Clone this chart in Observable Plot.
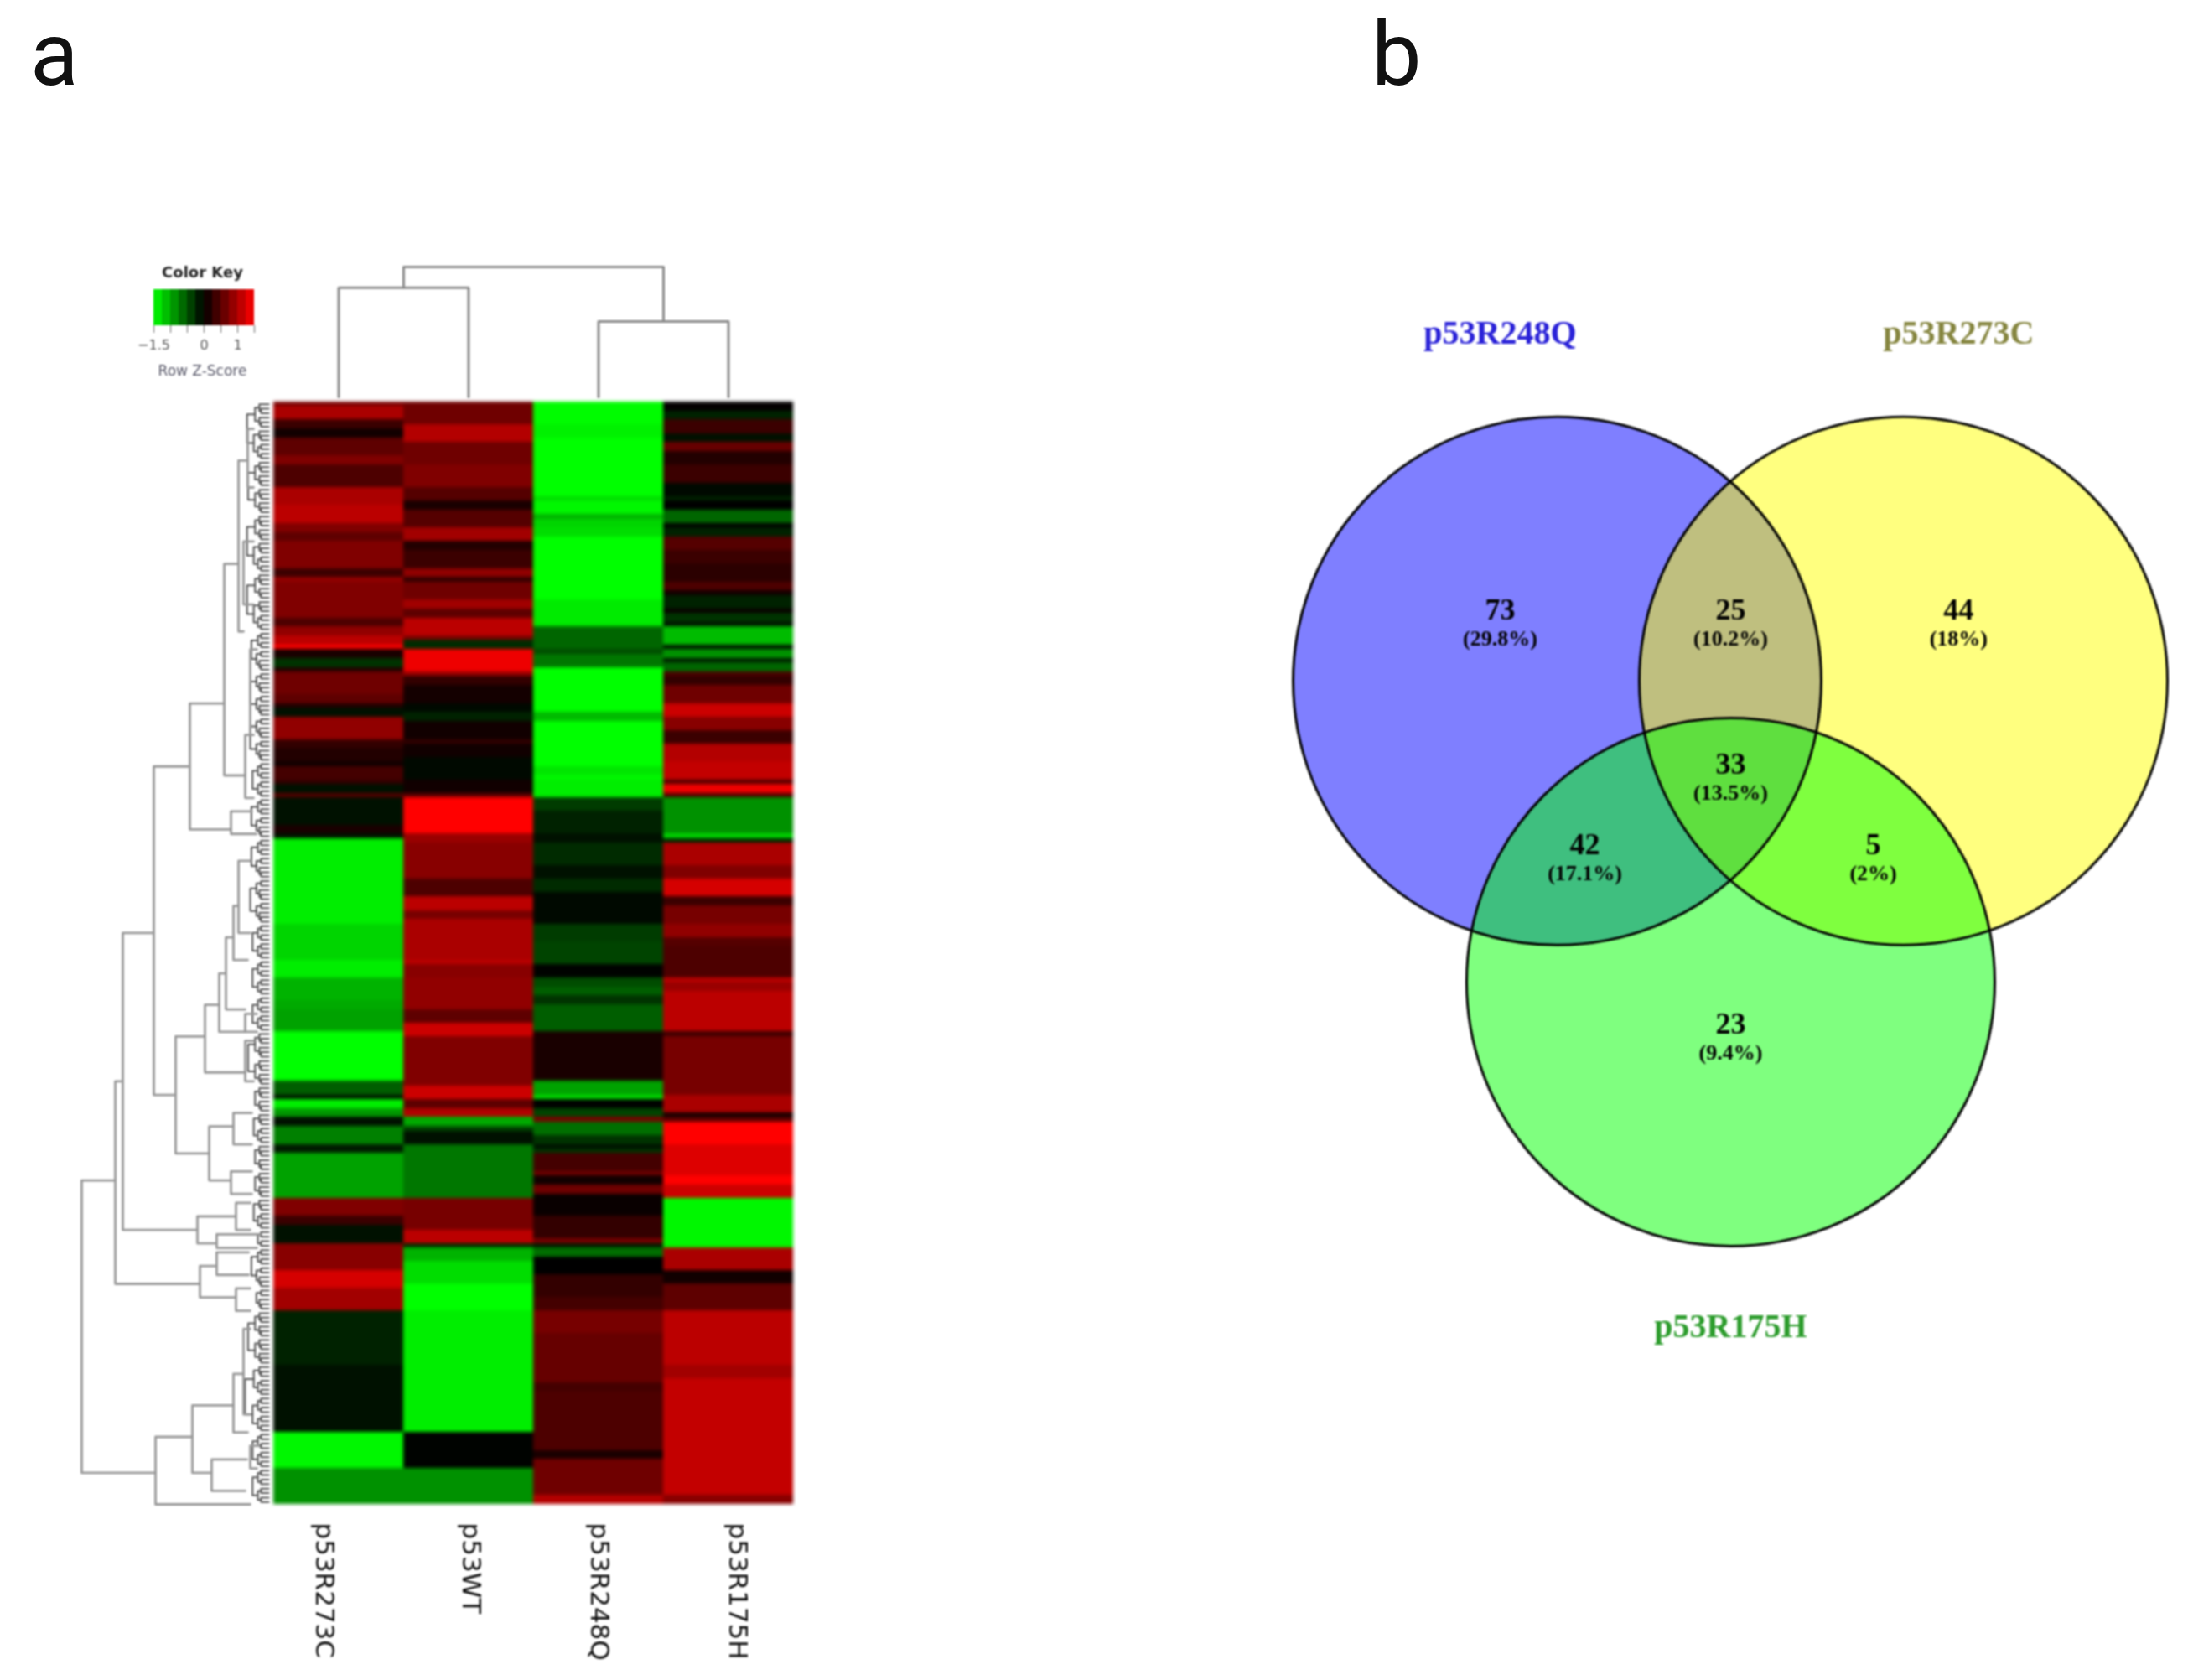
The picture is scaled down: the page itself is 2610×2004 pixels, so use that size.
<!DOCTYPE html>
<html>
<head>
<meta charset="utf-8">
<script src="https://cdn.jsdelivr.net/npm/d3@7"></script>
<script src="https://cdn.jsdelivr.net/npm/@observablehq/plot@0.6"></script>
<style>
html,body{margin:0;padding:0;background:#fff;overflow:hidden}
#page{position:relative;width:2610px;height:2004px;background:#fff}
#page>*{position:absolute}
.letter{font-family:"Roboto";font-size:106px;line-height:normal;color:#111}
</style>
</head>
<body>
<div id="page"></div>
<script>
// ---------- values ----------
const samples = ["p53R273C", "p53WT", "p53R248Q", "p53R175H"];
const rowCount = 245;

// each heatmap column: [row where the run ends, row z-score]
const p53R273C_runs = [[1,.7],[4,1],[6,.35],[8,.1],[12,.55],[14,.75],[19,.45],[23,1],[27,1.1],[29,.75],[31,.55],[37,.75],[39,.35],[40,.85],[48,.75],[50,.45],[52,.85],[54,1.1],[55,1.5],[57,.15],[59,-.3],[60,.2],[65,.65],[67,.55],[68,.2],[70,-.1],[75,.85],[77,.3],[80,.2],[81,.1],[84,.4],[85,.3],[87,-.1],[88,.5],[94,-.1],[96,.15],[97,-.1],[116,-1.4],[124,-1.25],[128,-1.4],[133,-1.05],[135,-1],[140,-.95],[151,-1.5],[154,-.55],[155,-.1],[157,-1.4],[159,-.9],[161,-.1],[165,-.75],[167,-.15],[177,-.95],[181,.75],[183,.35],[187,-.1],[193,.8],[197,1.25],[202,.95],[214,-.2],[229,-.1],[237,-1.45],[245,-.85]];
const p53WT_runs = [[5,.65],[9,1.05],[14,.65],[19,.75],[22,.5],[24,.15],[28,.5],[31,.95],[33,.2],[37,.35],[39,.85],[40,.3],[44,.65],[46,.95],[48,.55],[52,1.1],[53,.75],[55,-.25],[60,1.4],[61,.9],[63,.3],[67,.12],[69,-.05],[71,-.2],[75,.1],[76,.3],[79,.1],[84,-.05],[87,.1],[88,.55],[96,1.5],[98,.9],[106,.8],[110,.45],[113,1.1],[115,.7],[124,1],[125,1.1],[128,.8],[135,.85],[138,.55],[141,1.2],[152,.75],[155,1.2],[157,.55],[159,1.05],[161,-1],[162,-.4],[165,-.1],[177,-.7],[184,.7],[187,1.1],[188,-.25],[191,-1.05],[196,-1.3],[202,-1.5],[229,-1.4],[237,-.02],[245,-.85]];
const p53R248Q_runs = [[5,-1.48],[8,-1.42],[21,-1.5],[22,-1.3],[25,-1.45],[26,-1.05],[28,-1.25],[30,-1.3],[44,-1.5],[50,-1.38],[55,-.6],[56,-.45],[59,-.7],[69,-1.5],[71,-1.1],[81,-1.5],[83,-1.35],[84,-1.45],[88,-1.4],[91,-.35],[96,-.2],[98,-.1],[101,-.25],[103,-.25],[106,-.1],[109,-.25],[116,-.05],[120,-.35],[125,-.4],[128,-.02],[130,-.45],[132,-.55],[134,-.3],[140,-.55],[151,.15],[154,-.95],[155,-1.3],[157,-.02],[159,-.4],[160,.7],[163,-.65],[165,-.3],[166,-.1],[167,-.3],[171,.4],[172,.65],[174,.1],[176,.65],[181,.05],[186,.3],[187,.7],[188,-.15],[190,-.65],[194,0],[199,.3],[202,.4],[207,.7],[218,.6],[220,.4],[233,.45],[235,.15],[243,.65],[245,1.05]];
const p53R175H_runs = [[2,.02],[4,-.2],[7,.35],[9,-.1],[11,.6],[14,.2],[18,.35],[21,-.05],[22,-.2],[24,0],[27,-.6],[28,0],[30,-.2],[33,.5],[36,.35],[40,.25],[42,.45],[43,.1],[46,-.2],[47,.05],[49,-.3],[50,-.1],[54,-1.1],[55,-.1],[57,-.85],[58,-.15],[60,-.6],[61,.45],[63,.3],[67,.65],[70,1.2],[73,.8],[76,.35],[80,1.05],[84,1.15],[85,.45],[87,1.4],[88,.45],[96,-.85],[97,-1.25],[98,-.2],[103,1],[106,.75],[110,1.25],[112,.35],[116,.7],[119,.85],[121,.5],[128,.45],[129,1.1],[131,.9],[140,1.1],[141,.35],[154,.7],[158,1],[159,.1],[160,.5],[165,1.5],[172,1.3],[174,1.5],[177,1.2],[188,-1.45],[193,1],[196,.1],[202,.55],[214,1.1],[217,.95],[243,1.15],[245,.8]];
const columnRuns = [p53R273C_runs, p53WT_runs, p53R248Q_runs, p53R175H_runs];

const colorKeyBreaks = [-1.5,-1.25,-1,-.75,-.5,-.25,0,.25,.5,.75,1,1.25,1.5];
const colorKeyTicks = [-1.5,-1,-.5,0,.5,1,1.5];

// column tree: merge distance and its two branches
const columnTree = {dist:100, kids:[{dist:84, kids:[0,1]}, {dist:58, kids:[2,3]}]};

// row tree merges: [distance, upper row, lower row, upper branch distance, lower branch distance]
const rowMerges = [
 [223,173,238,183,135],[183,151,196,174,82],[82,192,199,62,39],[62,189,194,24,24],[39,197,202,22,22],
 [174,118,184,137,85],[85,181,187,39,62],[39,178,184,22,22],[62,185,188,10,14],
 [137,81,154,94,111],[111,141,167,76,71],[76,134,149,59,28],[59,127,140,51,28],[51,119,135,42,28],[42,112,124,36,25],[36,102,118,22,22],
 [28,142,151,18,18],[28,136,140,14,14],[71,161,173,42,45],[42,158,165,20,20],[45,171,176,20,20],
 [135,230,245,91,22],[91,223,238,42,68],[42,216,229,30,25],[30,206,225,22,22],[68,235,242,26,28],[22,232,237,12,14],
 [94,67,95,53,45],[53,36,83,36,28],[36,13,51,25,30],[25,6,19,18,18],[30,31,45,18,18],[28,74,88,22,18],[22,55,74,14,18],[45,91,96,20,15]
];
// row blocks that hold the fine branches next to the heatmap
const rowBlockEnds = [13,25,38,51,60,70,80,88,97,106,116,124,132,140,152,158,165,171,177,184,188,197,202,214,229,237,245];

const vennSets = ["p53R248Q","p53R273C","p53R175H"];
const vennColors = ["#0000ff","#ffff00","#00ff00"];
const vennCounts = [73,25,44,33,42,5,23];
const vennShares = ["(29.8%)","(10.2%)","(18%)","(13.5%)","(17.1%)","(2%)","(9.4%)"];

// ---------- layout ----------
const page = document.getElementById("page");
const place = (el, left, top, blur) => {
  el.style.left = left + "px"; el.style.top = top + "px";
  if (blur) el.style.filter = `blur(${blur}px)`;
  page.appendChild(el); return el;
};
const letter = (t, left, top) => { const d = document.createElement("div"); d.className = "letter"; d.textContent = t; place(d, left, top); };
letter("a", 36, 3); letter("b", 1636, 3);

const colorScale = {type:"linear", domain:[-1.5,0,1.5], range:["#00ff00","#000000","#ff0000"], clamp:true};
const sans = "DejaVu Sans";
const heatX = [326,946], heatY = [479,1794];

// ---------- heatmap ----------
const heatCells = [];
columnRuns.forEach((runs, c) => {
  let from = 0;
  for (const [end, z] of runs) { for (let r = from; r < end; r++) heatCells.push({sample:samples[c], row:r, z}); from = end; }
});
place(Plot.plot({
  width: heatX[1]-heatX[0], height: heatY[1]-heatY[0],
  marginTop:0, marginRight:0, marginBottom:0, marginLeft:0,
  style:{background:"transparent", overflow:"visible"},
  x:{type:"band", domain:samples, padding:0, round:false, axis:null},
  y:{type:"band", domain:d3.range(rowCount), padding:0, round:false, axis:null},
  color:colorScale,
  marks:[Plot.cell(heatCells,{x:"sample", y:"row", fill:"z", shapeRendering:"crispEdges"})]
}), heatX[0], heatY[0], 2.2);

// sample labels below the heatmap
const labelNudge = [-5,15,13,23];
place(Plot.plot({
  width: heatX[1]-heatX[0], height: 190,
  marginTop:0, marginRight:0, marginBottom:0, marginLeft:0,
  style:{background:"transparent", overflow:"visible"},
  x:{type:"band", domain:samples, padding:0, round:false, axis:null},
  y:{axis:null},
  marks: samples.map((s,i)=>Plot.text([s],{x:d=>d, text:d=>d, frameAnchor:"top", dy:22, dx:labelNudge[i], rotate:90, textAnchor:"start", fontSize:31, fontFamily:sans, fill:"#111"}))
}), heatX[0], heatY[1], 1.2);

// ---------- column tree ----------
const colLines = []; let lineId = 0;
const walkCol = n => {
  if (typeof n === "number") return {x:n+.5, d:0};
  const [a,b] = n.kids.map(walkCol), id = lineId++;
  colLines.push({id,x:a.x,d:a.d},{id,x:a.x,d:n.dist},{id,x:b.x,d:n.dist},{id,x:b.x,d:b.d});
  return {x:(a.x+b.x)/2, d:n.dist};
};
walkCol(columnTree);
place(Plot.plot({
  width: heatX[1]-heatX[0], height: 170,
  marginTop:8, marginRight:0, marginBottom:7, marginLeft:0,
  style:{background:"transparent", overflow:"visible"},
  x:{domain:[0,4], axis:null}, y:{domain:[0,100], axis:null},
  marks:[Plot.line(colLines,{x:"x", y:"d", z:"id", stroke:"#8c8c8c", strokeWidth:3})]
}), heatX[0], 310, .9);

// ---------- row tree ----------
const rowLines = []; const twigLines = []; let twigId = 0;
const twig = (a, b) => {
  if (b - a <= 1) return {d:0, r:a+.5};
  const m = a + Math.floor((b-a)/2), l = twig(a,m), r = twig(m,b);
  const d = 3 + 24*Math.pow((b-a)/14,.7), id = twigId++;
  twigLines.push({id,d:l.d,r:l.r},{id,d,r:l.r},{id,d,r:r.r},{id,d:r.d,r:r.r});
  return {d, r:(l.r+r.r)/2};
};
rowBlockEnds.forEach((end,i)=>twig(i?rowBlockEnds[i-1]:0,end));
rowMerges.forEach(([d,r1,r2,d1,d2],id)=>rowLines.push({id,d:d1,r:r1},{id,d,r:r1},{id,d,r:r2},{id,d:d2,r:r2}));
place(Plot.plot({
  width:236, height: heatY[1]-heatY[0],
  marginTop:0, marginRight:0, marginBottom:0, marginLeft:0,
  style:{background:"transparent", overflow:"visible"},
  x:{domain:[0,230], range:[230,0], axis:null},
  y:{domain:[0,rowCount], range:[0,heatY[1]-heatY[0]], axis:null},
  marks:[
    Plot.line(twigLines,{x:"d", y:"r", z:"id", stroke:"#555555", strokeWidth:2}),
    Plot.line(rowLines,{x:"d", y:"r", z:"id", stroke:"#999999", strokeWidth:2.8})
  ]
}), 90, heatY[0], .9);

// ---------- colour key ----------
const keyBins = colorKeyBreaks.slice(0,-1).map((b,i)=>({x1:b, x2:colorKeyBreaks[i+1], z:(b+colorKeyBreaks[i+1])/2}));
place(Plot.plot({
  width:150, height:160,
  marginTop:45, marginRight:17, marginBottom:72, marginLeft:13,
  style:{background:"transparent", overflow:"visible"},
  x:{domain:[-1.5,1.5], axis:null},
  y:{domain:[0,1], axis:null},
  color:colorScale,
  marks:[
    Plot.rect(keyBins,{x1:"x1", x2:"x2", y1:0, y2:1, fill:"z", shapeRendering:"crispEdges"}),
    Plot.axisX({anchor:"bottom", ticks:colorKeyTicks, tickSize:9, tickPadding:8, fontSize:16, fontFamily:sans, stroke:"#666", color:"#555",
      tickFormat:d=>d===-1.5?"\u22121.5":d===0?"0":d===1?"1":""}),
    Plot.text(["Color Key"],{frameAnchor:"top", dy:-15, dx:-2, fontSize:18, fontWeight:"bold", fontFamily:sans, fill:"#222", lineAnchor:"bottom"}),
    Plot.text(["Row Z-Score"],{frameAnchor:"bottom", dy:59, dx:-2, fontSize:17, fontFamily:sans, fill:"#556"})
  ]
}), 170, 300, 1.2);

// ---------- venn ----------
const vennPlace = {
  centers:[[-.657,-1.14],[.654,-1.14],[0,0]],
  titles:[[-.873,-2.457],[.863,-2.457],[0,1.305]],
  regions:[[-.873,-1.41],[0,-1.41],[.863,-1.41],[0,-.825],[-.552,-.52],[.54,-.52],[0,.159]],
  titleInk:["#2a22d8","#85853f","#2c9c2c"]
};
const vennCircles = vennSets.map((s,i)=>({set:s, x:vennPlace.centers[i][0], y:vennPlace.centers[i][1], fill:vennColors[i]}));
const vennTitles = vennSets.map((s,i)=>({set:s, x:vennPlace.titles[i][0], y:vennPlace.titles[i][1], ink:vennPlace.titleInk[i]}));
const vennRegions = vennCounts.map((n,i)=>({n, share:vennShares[i], x:vennPlace.regions[i][0], y:vennPlace.regions[i][1]}));
const serif = "Liberation Serif";
place(Plot.plot({
  width:1110, height:1300,
  marginTop:0, marginRight:0, marginBottom:0, marginLeft:0,
  style:{background:"transparent", overflow:"visible"},
  x:{domain:[-1.8,1.724], axis:null},
  y:{domain:[-2.641,1.486], range:[0,1300], axis:null},
  marks:[
    ...vennCircles.map(c=>Plot.dot([c],{x:"x", y:"y", r:315, fill:"fill", fillOpacity:.5, stroke:null})),
    ...vennCircles.map(c=>Plot.dot([c],{x:"x", y:"y", r:315, fill:null, stroke:"#000", strokeWidth:3})),
    Plot.text(vennTitles,{x:"x", y:"y", text:"set", fill:d=>d.ink, fontFamily:serif, fontWeight:"bold", fontSize:40}),
    Plot.text(vennRegions,{x:"x", y:"y", text:d=>String(d.n), fill:"#000", fontFamily:serif, fontWeight:"bold", fontSize:36}),
    Plot.text(vennRegions,{x:"x", y:"y", dy:34, text:"share", fill:"#000", fontFamily:serif, fontWeight:"bold", fontSize:26})
  ]
}), 1497, 339, 1.3);
</script>
</body>
</html>
